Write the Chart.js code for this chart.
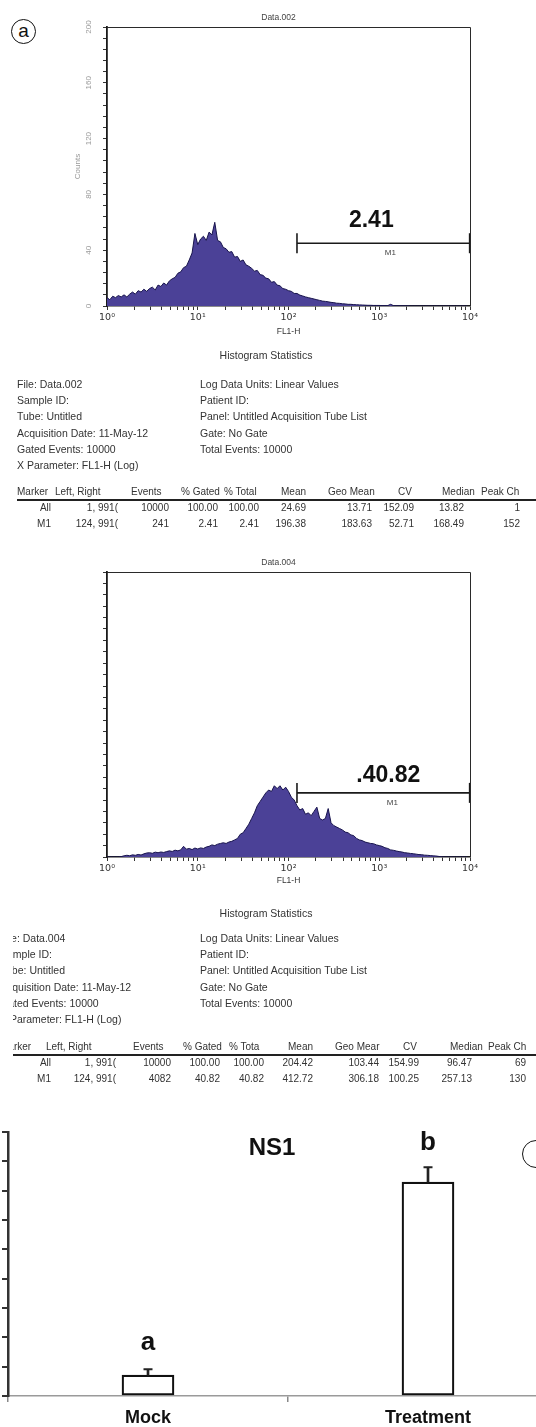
<!DOCTYPE html>
<html><head><meta charset="utf-8">
<script src="https://cdn.jsdelivr.net/npm/chart.js@4.4.0/dist/chart.umd.min.js"></script>
<style>
html,body{margin:0;padding:0;width:536px;height:1427px;overflow:hidden;background:#fff;}
body{position:relative;font-family:"Liberation Sans",Arial,sans-serif;color:#333;}
canvas{position:absolute;}
.t{position:absolute;white-space:nowrap;}
.layer{position:absolute;left:0;top:0;width:536px;height:1427px;}
.circ{position:absolute;border:1.6px solid #111;border-radius:50%;box-sizing:border-box;text-align:center;color:#111;}
</style></head><body>
<div class="circ" style="left:11px;top:19px;width:25px;height:25px;font-size:19px;line-height:21px;">a</div>
<canvas id="h1" width="536" height="340" style="left:0;top:0;"></canvas>
<canvas id="h2" width="536" height="350" style="left:0;top:540px;"></canvas>
<canvas id="bars" width="580" height="327" style="left:0;top:1100px;"></canvas>
<div class="circ" style="left:522px;top:1140px;width:28px;height:28px;"></div>
<div id="stats1" class="layer"></div>
<div id="stats2" class="layer" style="clip-path:inset(0 0 0 13px);"></div>
<script>
// ---------------- DATA ----------------
// Histogram counts per 8-channel bin (1024 channels = 4 decades of FL1-H)
const hist1Counts = [
  6, 4.5, 7, 6, 7.5, 6.5, 8, 6.5, 8.5, 10,
  8.5, 11, 10, 12, 10.5, 12.5, 13.5, 11.5, 15, 14,
  16.5, 15, 18, 19.5, 20.5, 23.5, 24.5, 27.5, 28.5, 33,
  38, 52, 44, 48, 50, 47, 53, 51, 60, 47,
  46, 42, 41, 38.5, 39, 35, 35.5, 32, 33, 29.5,
  28.5, 27, 25, 25.5, 22.5, 22, 20, 19.5, 17, 17.5,
  15, 14.5, 12.5, 12, 11, 10.5, 9, 9, 7.8, 7.2,
  6.5, 6, 5.5, 5, 4.5, 4, 3.5, 3.3, 3, 2.6,
  2.4, 2, 1.9, 1.6, 1.5, 1.2, 1.2, 1, 0.9, 0.8,
  0.7, 0.6, 0.5, 0.5, 0.4, 0.4, 0.4, 0.3, 0.3, 0.3,
  1.2, 0.3, 0.2, 0.2, 0.1, 0.1, 0.1, 0, 0, 0,
  0, 0, 0, 0, 0, 0, 0, 0, 0, 0,
  0, 0, 0, 0, 0, 0, 0, 0
];
const hist2Counts = [
  0, 0, 0, 0, 0, 0.3, 0.8, 1.2, 0.9, 1.5,
  1.2, 1.8, 1.4, 2.2, 2.8, 3, 2.6, 3.4, 3, 3.5,
  3.2, 3.8, 4.3, 3.9, 4.8, 4.3, 5, 7.5, 5.5, 6,
  5.2, 6.3, 5.6, 6.4, 6, 7, 7.5, 8.5, 8, 9,
  9.5, 10, 9.5, 10.5, 11, 12, 13, 16, 17, 20,
  23, 27, 31, 36, 39, 42, 45, 47, 46, 50,
  48, 50, 47, 49, 46, 42, 40, 36, 33, 34,
  30, 31, 29, 32, 35, 27, 26, 27, 34, 24,
  22, 21, 20, 19, 17.5, 17, 15.5, 15, 13, 12,
  11.5, 10.5, 10, 9.5, 9.3, 8.5, 8, 7.5, 6.5, 6,
  5, 4.7, 4.2, 3.8, 3.5, 3, 2.8, 2.5, 2.3, 2,
  1.7, 1.6, 1.3, 1.2, 1, 0.8, 0.7, 0.4, 0.1, 0,
  0, 0, 0, 0, 0, 0, 0, 0
];
const BIN = 8;
const gateLR = [124, 9910];          // M1 marker left/right (FL1-H units)
const gateLevel = [45, 45];          // marker drawn height (counts) per histogram
const gateTexts = ['2.41', '.40.82'];
const histTitles = ['Data.002', 'Data.004'];
const xMajorValues = [1, 10, 100, 1000, 10000];
const xTickLabels = ['10\u2070', '10\u00B9', '10\u00B2', '10\u00B3', '10\u2074'];
const yTickLabels1 = [0, 40, 80, 120, 160, 200];

const barCategories = ['Mock', 'Treatment'];
const barMeans = [0.71, 7.29];
const barErrors = [0.20, 0.51];
const barLetters = ['a', 'b'];
const barTitle = 'NS1';

const infoLeft1 = ['File: Data.002', 'Sample ID:', 'Tube: Untitled', 'Acquisition Date: 11-May-12', 'Gated Events: 10000', 'X Parameter: FL1-H (Log)'];
const infoLeft2 = ['File: Data.004', 'Sample ID:', 'Tube: Untitled', 'Acquisition Date: 11-May-12', 'Gated Events: 10000', 'X Parameter: FL1-H (Log)'];
const infoRight = ['Log Data Units: Linear Values', 'Patient ID:', 'Panel: Untitled Acquisition Tube List', 'Gate: No Gate', 'Total Events: 10000'];
const tableHeaders1 = ['Marker', 'Left, Right', 'Events', '% Gated', '% Total', 'Mean', 'Geo Mean', 'CV', 'Median', 'Peak Ch'];
const tableHeaders2 = ['Marker', 'Left, Right', 'Events', '% Gated', '% Tota', 'Mean', 'Geo Mear', 'CV', 'Median', 'Peak Ch'];
const tableRows1 = [
  ['All', '1, 991(', '10000', '100.00', '100.00', '24.69', '13.71', '152.09', '13.82', '1'],
  ['M1', '124, 991(', '241', '2.41', '2.41', '196.38', '183.63', '52.71', '168.49', '152']
];
const tableRows2 = [
  ['All', '1, 991(', '10000', '100.00', '100.00', '204.42', '103.44', '154.99', '96.47', '69'],
  ['M1', '124, 991(', '4082', '40.82', '40.82', '412.72', '306.18', '100.25', '257.13', '130']
];

// ---------------- HELPERS ----------------
const FONT = '"Liberation Sans", Arial, sans-serif';
const toChannel = v => 256 * Math.log10(v);
const xMajorCh = xMajorValues.map(toChannel);
const xMinorCh = [];
for (let d = 0; d < 4; d++) for (let k = 2; k <= 9; k++) xMinorCh.push(toChannel(k * Math.pow(10, d)));
const xTickCh = xMajorCh.concat(xMinorCh).sort((a, b) => a - b);
const yHistTicks = [];
for (let v = 0; v <= 200; v += 8) yHistTicks.push(v);

const framePlugin = {
  id: 'frame',
  afterDraw(chart) {
    const {ctx, chartArea: a} = chart;
    ctx.save();
    ctx.strokeStyle = '#2a2a2a'; ctx.lineWidth = 1;
    ctx.beginPath();
    ctx.moveTo(a.left, a.top + 0.5); ctx.lineTo(a.right + 0.5, a.top + 0.5); ctx.lineTo(a.right + 0.5, a.bottom);
    ctx.stroke();
    ctx.restore();
  }
};

function histChart(id, counts, idx, cfg) {
  const histData = counts.map((c, i) => ({x: i * BIN, y: c}));
  const gateData = gateLR.map(v => ({x: toChannel(v), y: gateLevel[idx]}));
  const textPlugin = {
    id: 'histText' + idx,
    afterDraw(chart) {
      const {ctx, chartArea: a, scales: {x, y}} = chart;
      ctx.save();
      ctx.textAlign = 'center';
      ctx.font = '8.5px ' + FONT; ctx.fillStyle = '#444'; ctx.textBaseline = 'middle';
      ctx.fillText(histTitles[idx], (a.left + a.right) / 2 - 10, a.top - 9);
      const gx = (x.getPixelForValue(gateData[0].x) + x.getPixelForValue(gateData[1].x)) / 2;
      const gy = y.getPixelForValue(gateLevel[idx]);
      ctx.font = 'bold 23px ' + FONT; ctx.fillStyle = '#111'; ctx.textBaseline = 'alphabetic';
      ctx.fillText(gateTexts[idx], gx + cfg.gateDx, gy - cfg.gateDy);
      ctx.font = '8px ' + FONT; ctx.fillStyle = '#444'; ctx.textBaseline = 'middle';
      ctx.fillText('M1', gx + cfg.m1Dx, gy + 10);
      if (cfg.yLabels) {
        ctx.font = '8px ' + FONT; ctx.fillStyle = '#9a9a9a';
        for (const v of yTickLabels1) {
          ctx.save();
          ctx.translate(a.left - 18, y.getPixelForValue(v));
          ctx.rotate(-Math.PI / 2);
          ctx.fillText(String(v), 0, 0);
          ctx.restore();
        }
      }
      ctx.restore();
    }
  };
  return new Chart(document.getElementById(id), {
    type: 'line',
    data: {datasets: [
      {data: histData, fill: 'origin', backgroundColor: '#4b4197', borderColor: '#17134c', borderWidth: 1,
       pointRadius: 0, tension: 0, order: 2},
      {data: gateData, fill: false, borderColor: '#1a1a1a', borderWidth: 1.6, pointStyle: 'line', rotation: 90,
       pointRadius: 10, pointBorderWidth: 1.6, pointBorderColor: '#1a1a1a', order: 1, clip: false}
    ]},
    options: {
      responsive: false, animation: false, devicePixelRatio: 1,
      layout: {padding: {left: 70, right: 66, top: cfg.top, bottom: 0}},
      plugins: {legend: {display: false}, tooltip: {enabled: false}},
      scales: {
        x: {
          type: 'linear', min: 0, max: 1024,
          afterBuildTicks: s => { s.ticks = xTickCh.map(v => ({value: v})); },
          afterFit: s => { s.height = cfg.xh; },
          ticks: {autoSkip: false, maxRotation: 0, minRotation: 0, padding: 2, color: '#333',
                  font: {size: 9.5, family: '"DejaVu Sans", sans-serif'},
                  callback: v => { const i = xMajorCh.findIndex(c => Math.abs(c - v) < 0.01); return i >= 0 ? xTickLabels[i] : ''; }},
          grid: {drawOnChartArea: false, tickLength: 4, color: '#333', lineWidth: 1},
          border: {color: '#1a1a1a', width: 1.6},
          title: {display: true, text: 'FL1-H', color: '#333', font: {size: 8.5, family: FONT}, padding: {top: 0, bottom: cfg.tb}}
        },
        y: {
          min: 0, max: 200,
          afterBuildTicks: s => { s.ticks = yHistTicks.map(v => ({value: v})); },
          afterFit: s => { s.width = 37; },
          ticks: {display: false},
          grid: {drawOnChartArea: false, tickLength: 4, color: '#333', lineWidth: 1},
          border: {color: '#1a1a1a', width: 1.8},
          title: {display: cfg.yLabels, text: 'Counts', color: '#9a9a9a', font: {size: 8, family: FONT}, padding: {top: 3, bottom: 0}}
        }
      }
    },
    plugins: [framePlugin, textPlugin]
  });
}

histChart('h1', hist1Counts, 0, {top: 27, xh: 34, tb: 3, gateDx: -12, gateDy: 16, m1Dx: 7, yLabels: true});
histChart('h2', hist2Counts, 1, {top: 32, xh: 33, tb: 4, gateDx: 5, gateDy: 11, m1Dx: 9, yLabels: false});

// ---------------- BAR CHART ----------------
const barTextPlugin = {
  id: 'barText',
  afterDraw(chart) {
    const {ctx, chartArea: a, scales: {x, y}} = chart;
    ctx.save();
    ctx.fillStyle = '#111'; ctx.textAlign = 'center'; ctx.textBaseline = 'alphabetic';
    ctx.font = 'bold 24px ' + FONT;
    ctx.fillText(barTitle, x.getPixelForValue(0.5) - 16, a.top + 23);
    ctx.font = 'bold 26px ' + FONT;
    barLetters.forEach((L, i) => {
      ctx.fillText(L, x.getPixelForValue(i), y.getPixelForValue(barMeans[i] + barErrors[i]) - (i === 1 ? 17 : 19));
    });
    ctx.restore();
  }
};
new Chart(document.getElementById('bars'), {
  type: 'bar',
  data: {
    labels: barCategories,
    datasets: [
      {type: 'bar', data: barMeans, backgroundColor: '#fff', borderColor: '#111', borderWidth: 2.2,
       borderSkipped: false, barThickness: 52, grouped: false, order: 3},
      {type: 'bar', data: barMeans.map((m, i) => [m, m + barErrors[i]]), backgroundColor: '#222',
       borderWidth: 0, barThickness: 2, grouped: false, order: 2},
      {type: 'line', data: barMeans.map((m, i) => m + barErrors[i]), showLine: false, pointStyle: 'line',
       pointRadius: 4.5, pointBorderWidth: 2, pointBorderColor: '#222', order: 1}
    ]
  },
  options: {
    responsive: false, animation: false, devicePixelRatio: 1,
    layout: {padding: {left: 0, right: 12, top: 32, bottom: 0}},
    plugins: {legend: {display: false}, tooltip: {enabled: false}},
    scales: {
      x: {
        type: 'category', offset: true,
        afterFit: s => { s.height = 31; },
        grid: {offset: true, drawOnChartArea: false, tickLength: 6, color: '#888', lineWidth: 1.5},
        border: {color: '#9a9a9a', width: 1.5},
        ticks: {color: '#111', padding: 5, font: {size: 18, weight: 'bold', family: FONT}}
      },
      y: {
        min: 0, max: 9,
        afterFit: s => { s.width = 8; },
        ticks: {display: false, stepSize: 1},
        grid: {drawOnChartArea: false, tickLength: 6, color: '#333', lineWidth: 2},
        border: {color: '#333', width: 2.5}
      }
    }
  },
  plugins: [barTextPlugin]
});

// ---------------- STATISTICS TEXT ----------------
const layout1 = {titleY: 355, rowsY0: 384, leftX: 17, headerY: 492, ruleY: 499, ruleX: 17, rowY: [508, 524],
  headerLeft: [17, 55, 131, 181, 224, 281, 328, 398, 442, 481],
  valueRight: [51, 118, 169, 218, 259, 306, 372, 414, 464, 520]};
const layout2 = {titleY: 913, rowsY0: 938, leftX: 0, headerY: 1047, ruleY: 1054, ruleX: 0, rowY: [1063, 1079],
  headerLeft: [0, 46, 133, 183, 229, 288, 335, 403, 450, 488],
  valueRight: [51, 116, 171, 220, 264, 313, 379, 419, 472, 526]};
function addText(parent, txt, x, y, size, align) {
  const d = document.createElement('div');
  d.className = 't';
  d.textContent = txt;
  d.style.left = x + 'px';
  d.style.top = (y - 7) + 'px';
  d.style.fontSize = size + 'px';
  d.style.lineHeight = '14px';
  if (align === 'right') d.style.transform = 'translateX(-100%)';
  if (align === 'center') d.style.transform = 'translateX(-50%)';
  parent.appendChild(d);
}
function statsBlock(parentId, L, leftLines, headers, rows) {
  const p = document.getElementById(parentId);
  addText(p, 'Histogram Statistics', 266, L.titleY, 10.5, 'center');
  leftLines.forEach((s, i) => addText(p, s, L.leftX, L.rowsY0 + i * 16.2, 10.5));
  infoRight.forEach((s, i) => addText(p, s, 200, L.rowsY0 + i * 16.2, 10.5));
  headers.forEach((h, i) => addText(p, h, L.headerLeft[i], L.headerY, 10));
  const rule = document.createElement('div');
  rule.style.cssText = 'position:absolute;height:2px;background:#222;left:' + L.ruleX + 'px;width:' + (536 - L.ruleX) + 'px;top:' + L.ruleY + 'px;';
  p.appendChild(rule);
  rows.forEach((r, ri) => r.forEach((v, ci) => addText(p, v, L.valueRight[ci], L.rowY[ri], 10, 'right')));
}
statsBlock('stats1', layout1, infoLeft1, tableHeaders1, tableRows1);
statsBlock('stats2', layout2, infoLeft2, tableHeaders2, tableRows2);
</script>
</body></html>
